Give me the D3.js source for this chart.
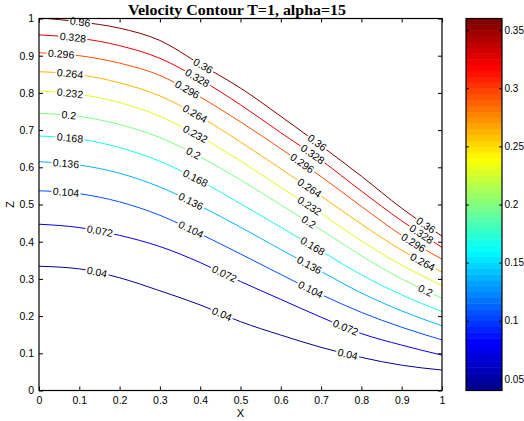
<!DOCTYPE html>
<html>
<head>
<meta charset="utf-8">
<script src="https://cdn.jsdelivr.net/npm/d3@7"></script>
<style>
  body { margin: 0; background: #fff; }
  svg { display: block; }
  text { font-family: "Liberation Sans", Arial, sans-serif; fill: #000; }
</style>
</head>
<body>
<svg id="chart" width="524" height="421"></svg>
<script>
// Sample positions along X where each contour's height Z is tabulated
const xs = [0, 0.1, 0.2, 0.3, 0.4, 0.5, 0.6, 0.7, 0.8, 0.9, 1];

// Contour levels (velocity)
const levels = [0.04, 0.072, 0.104, 0.136, 0.168, 0.2, 0.232, 0.264, 0.296, 0.328, 0.36];

// Z of each contour line at the xs positions
const z040 = [0.334, 0.327, 0.303, 0.268, 0.230, 0.185, 0.149, 0.116, 0.089, 0.068, 0.055];
const z072 = [0.447, 0.438, 0.417, 0.387, 0.344, 0.293, 0.245, 0.197, 0.153, 0.122, 0.095];
const z104 = [0.537, 0.529, 0.507, 0.471, 0.421, 0.367, 0.312, 0.258, 0.210, 0.170, 0.136];
const z136 = [0.615, 0.606, 0.584, 0.547, 0.496, 0.439, 0.379, 0.320, 0.262, 0.214, 0.174];
const z168 = [0.684, 0.676, 0.653, 0.616, 0.564, 0.502, 0.439, 0.375, 0.311, 0.257, 0.212];
const z200 = [0.745, 0.737, 0.715, 0.680, 0.628, 0.566, 0.499, 0.432, 0.362, 0.300, 0.248];
const z232 = [0.805, 0.796, 0.774, 0.737, 0.682, 0.617, 0.546, 0.476, 0.402, 0.337, 0.282];
const z264 = [0.857, 0.849, 0.827, 0.792, 0.736, 0.668, 0.596, 0.523, 0.447, 0.377, 0.318];
const z296 = [0.908, 0.900, 0.880, 0.847, 0.789, 0.722, 0.650, 0.575, 0.495, 0.417, 0.353];
const z328 = [0.956, 0.947, 0.927, 0.893, 0.836, 0.768, 0.693, 0.619, 0.536, 0.456, 0.385];
const z360 = [1.002, 0.991, 0.974, 0.941, 0.877, 0.813, 0.737, 0.658, 0.576, 0.490, 0.415];
const contourZ = [z040, z072, z104, z136, z168, z200, z232, z264, z296, z328, z360];

// X positions of the inline level labels on each contour
const labelX = [
  [0.144, 0.454, 0.766],
  [0.151, 0.460, 0.761],
  [0.067, 0.377, 0.674],
  [0.067, 0.377, 0.671],
  [0.077, 0.388, 0.679],
  [0.074, 0.383, 0.669, 0.959],
  [0.077, 0.388, 0.671],
  [0.077, 0.387, 0.671, 0.952],
  [0.055, 0.368, 0.653, 0.929],
  [0.084, 0.393, 0.679, 0.949],
  [0.102, 0.407, 0.690, 0.960]
];

const xTicks = [0, 0.1, 0.2, 0.3, 0.4, 0.5, 0.6, 0.7, 0.8, 0.9, 1];
const yTicks = [0, 0.1, 0.2, 0.3, 0.4, 0.5, 0.6, 0.7, 0.8, 0.9, 1];
const cbarTicks = [0.05, 0.1, 0.15, 0.2, 0.25, 0.3, 0.35];
const cbarRange = [0.04, 0.36];

const titleText = "Velocity Contour T=1, alpha=15";

const svg = d3.select("#chart");
const W = 524, H = 421;

const x = d3.scaleLinear().domain([0, 1]).range([39, 442]);
const y = d3.scaleLinear().domain([0, 1]).range([390.5, 18.5]);

// jet colormap
const jet = d3.scaleLinear()
  .domain([0, 0.125, 0.375, 0.625, 0.875, 1])
  .range(["rgb(0,0,143)", "rgb(0,0,255)", "rgb(0,255,255)", "rgb(255,255,0)", "rgb(255,0,0)", "rgb(128,0,0)"])
  .clamp(true);
const colorOf = v => jet((v - cbarRange[0]) / (cbarRange[1] - cbarRange[0]));

const defs = svg.append("defs");
defs.append("clipPath").attr("id", "plotClip")
  .append("rect").attr("x", x(0)).attr("y", y(1)).attr("width", x(1) - x(0)).attr("height", y(0) - y(1));

// Title
svg.append("text")
  .attr("x", 237).attr("y", 15)
  .attr("text-anchor", "middle")
  .style("font-family", "'Liberation Serif', 'Times New Roman', serif")
  .style("font-weight", "bold")
  .style("font-size", "14.5px")
  .attr("textLength", 218)
  .attr("lengthAdjust", "spacingAndGlyphs")
  .text(titleText);

// Contour lines
const line = d3.line()
  .x((d, i) => x(xs[i]))
  .y(d => y(d))
  .curve(d3.curveMonotoneX);

const plot = svg.append("g").attr("clip-path", "url(#plotClip)");
const labelLayer = svg.append("g");

levels.forEach((lev, k) => {
  const maskId = "lblmask" + k;
  const mask = defs.append("mask").attr("id", maskId)
    .attr("maskUnits", "userSpaceOnUse")
    .attr("x", 0).attr("y", 0).attr("width", W).attr("height", H);
  mask.append("rect").attr("x", 0).attr("y", 0).attr("width", W).attr("height", H).attr("fill", "#fff");

  const path = plot.append("path")
    .datum(contourZ[k])
    .attr("d", line)
    .attr("fill", "none")
    .attr("stroke", colorOf(lev))
    .attr("stroke-width", 1)
    .attr("mask", `url(#${maskId})`);

  const node = path.node();
  const total = node.getTotalLength();
  const lengthAtX = px => {
    let lo = 0, hi = total;
    for (let i = 0; i < 40; i++) {
      const mid = (lo + hi) / 2;
      if (node.getPointAtLength(mid).x < px) lo = mid; else hi = mid;
    }
    return (lo + hi) / 2;
  };

  labelX[k].forEach(lx => {
    const L = lengthAtX(x(lx));
    const p = node.getPointAtLength(L);
    const a = node.getPointAtLength(Math.max(0, L - 5));
    const b = node.getPointAtLength(Math.min(total, L + 5));
    const ang = Math.atan2(b.y - a.y, b.x - a.x) * 180 / Math.PI;
    const t = labelLayer.append("text")
      .attr("transform", `translate(${p.x},${p.y}) rotate(${ang})`)
      .attr("text-anchor", "middle")
      .attr("dy", "0.35em")
      .style("font-size", "10.5px")
      .text(String(lev));
    const w = t.node().getComputedTextLength() + 3;
    mask.append("rect")
      .attr("x", -w / 2).attr("y", -4.5).attr("width", w).attr("height", 9)
      .attr("transform", `translate(${p.x},${p.y}) rotate(${ang})`)
      .attr("fill", "#000");
  });
});

// Axes with inward ticks
const tickLen = 4;
const gx = svg.append("g").attr("transform", `translate(0,${y(0)})`)
  .call(d3.axisBottom(x).tickValues(xTicks).tickFormat(d => String(d)).tickSizeInner(-tickLen).tickSizeOuter(0).tickPadding(6));
const gxt = svg.append("g").attr("transform", `translate(0,${y(1)})`)
  .call(d3.axisTop(x).tickValues(xTicks).tickFormat("").tickSizeInner(-tickLen).tickSizeOuter(0));
const gy = svg.append("g").attr("transform", `translate(${x(0)},0)`)
  .call(d3.axisLeft(y).tickValues(yTicks).tickFormat(d => String(d)).tickSizeInner(-tickLen).tickSizeOuter(0).tickPadding(5));
const gyr = svg.append("g").attr("transform", `translate(${x(1)},0)`)
  .call(d3.axisRight(y).tickValues(yTicks).tickFormat("").tickSizeInner(-tickLen).tickSizeOuter(0));
[gx, gxt, gy, gyr].forEach(g => {
  g.select(".domain").remove();
  g.selectAll("line").attr("stroke", "#000");
  g.selectAll("text").style("font-size", "10.5px").style("font-family", "'Liberation Sans', Arial, sans-serif").attr("fill", "#000");
});

svg.append("rect")
  .attr("x", x(0)).attr("y", y(1)).attr("width", x(1) - x(0)).attr("height", y(0) - y(1))
  .attr("fill", "none").attr("stroke", "#000").attr("stroke-width", 1.2);

// Axis titles
svg.append("text").attr("x", x(0.5)).attr("y", 417)
  .attr("text-anchor", "middle").style("font-size", "11px").text("X");
svg.append("text").attr("transform", `translate(14,${y(0.5)}) rotate(-90)`)
  .attr("text-anchor", "middle").style("font-size", "11px").text("Z");

// Colorbar
const cbX0 = 466, cbX1 = 502;
const cy = d3.scaleLinear().domain(cbarRange).range([390.5, 18.5]);
const nBands = 64;
const bandStep = (cbarRange[1] - cbarRange[0]) / nBands;
svg.append("g").selectAll("rect")
  .data(d3.range(nBands))
  .join("rect")
  .attr("x", cbX0)
  .attr("width", cbX1 - cbX0)
  .attr("y", i => cy(cbarRange[0] + (i + 1) * bandStep))
  .attr("height", i => cy(cbarRange[0] + i * bandStep) - cy(cbarRange[0] + (i + 1) * bandStep) + 0.5)
  .attr("fill", i => jet(i / (nBands - 1)));

const gc = svg.append("g").attr("transform", `translate(${cbX1},0)`)
  .call(d3.axisRight(cy).tickValues(cbarTicks).tickFormat(d => String(d)).tickSizeInner(-3).tickSizeOuter(0).tickPadding(2.5));
gc.select(".domain").remove();
gc.selectAll("line").attr("stroke", "#000");
gc.selectAll("text").style("font-size", "10px").attr("fill", "#000");
const gcl = svg.append("g").attr("transform", `translate(${cbX0},0)`)
  .call(d3.axisLeft(cy).tickValues(cbarTicks).tickFormat("").tickSizeInner(-3).tickSizeOuter(0));
gcl.select(".domain").remove();
gcl.selectAll("line").attr("stroke", "#000");

svg.append("rect")
  .attr("x", cbX0).attr("y", cy(cbarRange[1])).attr("width", cbX1 - cbX0).attr("height", cy(cbarRange[0]) - cy(cbarRange[1]))
  .attr("fill", "none").attr("stroke", "#000").attr("stroke-width", 1.2);
</script>
</body>
</html>
